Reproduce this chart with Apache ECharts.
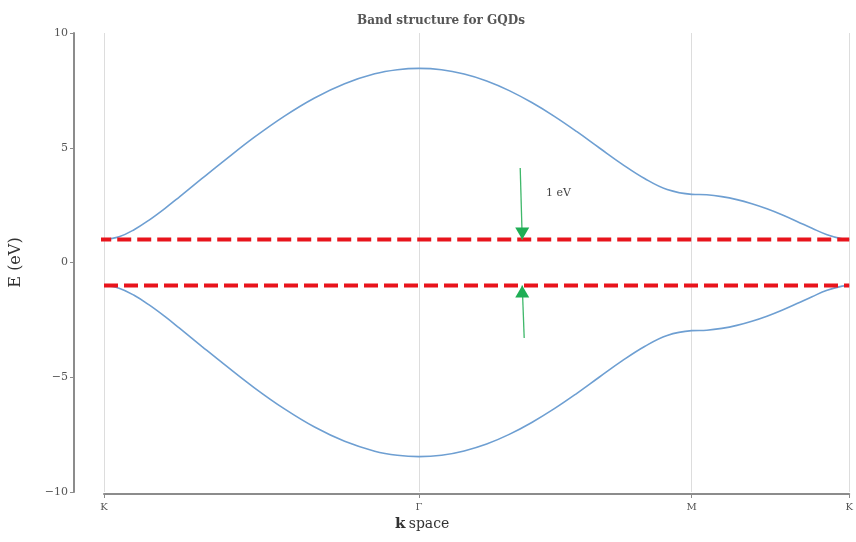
<!DOCTYPE html>
<html>
<head>
<meta charset="utf-8">
<script src="https://cdn.jsdelivr.net/npm/echarts@6/dist/echarts.min.js"></script>
<style>
  html, body { margin: 0; padding: 0; background: #fff; }
  #chart { width: 856px; height: 542px; }
</style>
</head>
<body>
<div id="chart"></div>
<script>
// Path length along K -> Γ -> M -> K
const kPath = [0, 0.2, 0.4, 0.6, 0.8, 1.0, 1.3, 1.6, 2.0, 2.4, 2.8, 3.2, 3.6, 3.9, 4.189,
  4.489, 4.789, 5.089, 5.389, 5.689, 5.989, 6.289, 6.589, 6.889, 7.189, 7.489, 7.816,
  8.016, 8.216, 8.416, 8.616, 8.816, 9.016, 9.216, 9.416, 9.616, 9.816, 9.911];

// Conduction band energy (eV)
const upperBand = [1.00, 1.12, 1.43, 1.85, 2.33, 2.85, 3.65, 4.44, 5.46, 6.38, 7.17, 7.79, 8.22, 8.40, 8.46,
  8.40, 8.21, 7.91, 7.49, 6.97, 6.37, 5.70, 4.99, 4.29, 3.66, 3.18, 2.97,
  2.95, 2.87, 2.74, 2.56, 2.34, 2.08, 1.79, 1.49, 1.21, 1.03, 1.00];

// Valence band energy (eV)
const lowerBand = [-1.00, -1.12, -1.43, -1.85, -2.33, -2.85, -3.65, -4.44, -5.46, -6.38, -7.17, -7.79, -8.22, -8.40, -8.46,
  -8.40, -8.21, -7.91, -7.49, -6.97, -6.37, -5.70, -4.99, -4.29, -3.66, -3.18, -2.97,
  -2.95, -2.87, -2.74, -2.56, -2.34, -2.08, -1.79, -1.49, -1.21, -1.03, -1.00];

// High-symmetry points
const symPoints = [0, 4.189, 7.816, 9.911];
const symLabels = ['K', 'Γ', 'M', 'K'];

// Gap edges (dashed lines)
const gapTop = { x: [-0.09, 9.911], e: [1, 1] };
const gapBottom = { x: [0, 9.911], e: [-1, -1] };

// Gap arrows: tail and tip
const arrowDown = { x: [5.535, 5.562], e: [4.12, 1.0] };
const arrowUp = { x: [5.588, 5.562], e: [-3.29, -1.0] };

const yTicks = { min: -10, max: 10, step: 5 };

const serif = '"DejaVu Serif", "Liberation Serif", serif';
const bandColor = '#6e9fd2';
const gapColor = '#e8141c';
const arrowColor = '#1fae55';

const zip = (xs, ys) => xs.map((x, i) => [x, ys[i]]);

const chart = echarts.init(document.getElementById('chart'), null, { renderer: 'canvas' });

function arrowSeries(a, rotate, offsetY) {
  const pts = zip(a.x, a.e);
  return {
    type: 'line',
    data: [
      { value: pts[0], symbol: 'none' },
      { value: pts[1], symbol: 'triangle', symbolSize: [14, 12], symbolRotate: rotate,
        symbolOffset: [0, offsetY], itemStyle: { color: arrowColor } }
    ],
    lineStyle: { color: '#3fb86a', width: 1.3 },
    itemStyle: { color: arrowColor },
    showSymbol: true,
    clip: false,
    silent: true,
    z: 5
  };
}

chart.setOption({
  animation: false,
  backgroundColor: '#ffffff',
  title: {
    text: 'Band structure for GQDs',
    left: 436,
    textAlign: 'center',
    top: 10,
    textStyle: { fontFamily: serif, fontSize: 12, fontWeight: 'bold', color: '#555' }
  },
  grid: { left: 101, right: 2, top: 33, bottom: 50, containLabel: false },
  xAxis: {
    type: 'value',
    min: 0,
    max: symPoints[symPoints.length - 1],
    offset: 2,
    axisLine: { show: true, onZero: false, lineStyle: { color: '#8c8c8c', width: 2 } },
    axisTick: { show: true, customValues: symPoints, length: 4, lineStyle: { color: '#8c8c8c' } },
    axisLabel: {
      customValues: symPoints,
      formatter: v => {
        const i = symPoints.findIndex(p => Math.abs(p - v) < 1e-6);
        return i >= 0 ? symLabels[i] : '';
      },
      fontFamily: serif, fontSize: 10, color: '#555', margin: 8
    },
    splitLine: { show: true, lineStyle: { color: '#dddddd', width: 1 } }
  },
  yAxis: {
    type: 'value',
    min: yTicks.min,
    max: yTicks.max,
    interval: yTicks.step,
    offset: 30,
    name: 'E (eV)',
    nameLocation: 'middle',
    nameGap: 50,
    nameTextStyle: { fontFamily: serif, fontSize: 16, color: '#333' },
    axisLine: { show: true, onZero: false, lineStyle: { color: '#8c8c8c', width: 2 } },
    axisTick: { show: true, length: 4, lineStyle: { color: '#8c8c8c' } },
    axisLabel: {
      formatter: v => String(v).replace('-', '\u2212'),
      fontFamily: serif, fontSize: 11, color: '#555', margin: 6
    },
    splitLine: { show: false }
  },
  graphic: [
    {
      type: 'text',
      left: 395,
      top: 517,
      style: {
        text: '{k|k} {s|space}',
        rich: {
          k: { fontFamily: serif, fontSize: 15, fontWeight: 'bold', fill: '#333' },
          s: { fontFamily: serif, fontSize: 14, fill: '#333' }
        }
      }
    },
    {
      type: 'text',
      left: 546,
      top: 188,
      style: { text: '1 eV', fontFamily: serif, fontSize: 11, fill: '#444' }
    }
  ],
  series: [
    {
      type: 'line', data: zip(kPath, upperBand), smooth: 0.4, showSymbol: false,
      lineStyle: { color: bandColor, width: 1.6 }, z: 3
    },
    {
      type: 'line', data: zip(kPath, lowerBand), smooth: 0.4, showSymbol: false,
      lineStyle: { color: bandColor, width: 1.6 }, z: 3
    },
    {
      type: 'line', data: zip(gapTop.x, gapTop.e), showSymbol: false, clip: false,
      lineStyle: { color: gapColor, width: 4, type: [14, 6] }, z: 4
    },
    {
      type: 'line', data: zip(gapBottom.x, gapBottom.e), showSymbol: false, clip: false,
      lineStyle: { color: gapColor, width: 4, type: [14, 6] }, z: 4
    },
    arrowSeries(arrowDown, 180, -6),
    arrowSeries(arrowUp, 0, 6)
  ]
});
</script>
</body>
</html>
